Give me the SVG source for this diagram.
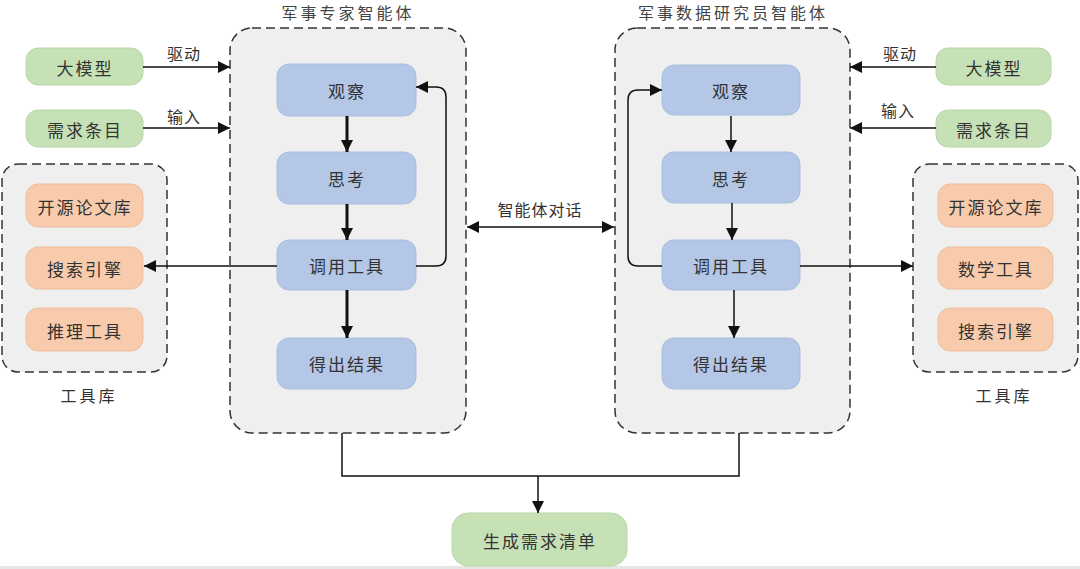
<svg xmlns="http://www.w3.org/2000/svg" width="1080" height="569" viewBox="0 0 1080 569">
<style>
text{font-family:"Noto Sans CJK SC","Noto Sans",sans-serif;fill:#333;text-anchor:middle;dominant-baseline:central}
.n{font-size:17px;letter-spacing:2px}
.t{font-size:16px;letter-spacing:3px;fill:#444}
.lb{font-size:16px;letter-spacing:1px}
.tl{font-size:16px;letter-spacing:3px}
.box{fill:#efefef;stroke:#333;stroke-width:1.5;stroke-dasharray:9 5}
.g{fill:#c6e1b5;stroke:#b9d6a6;stroke-width:1}
.b{fill:#b4c7e7;stroke:#a9bedf;stroke-width:1}
.o{fill:#f8cbad;stroke:#eebf9f;stroke-width:1}
.c{fill:none;stroke:#111;stroke-width:1.5}
.ck{fill:none;stroke:#111;stroke-width:3}
</style>
<defs>
<marker id="ah" viewBox="0 0 10 10" refX="10" refY="5" markerWidth="12" markerHeight="12" markerUnits="userSpaceOnUse" orient="auto-start-reverse">
<path d="M0,0 L10,5 L0,10 z" fill="#111"/>
</marker>
</defs>
<rect x="0" y="566" width="1080" height="3" fill="#e6e6e6"/>
<g id="expert-agent">
<rect class="box" x="230" y="28" width="236" height="405" rx="22"/>
<text class="t" x="348" y="12">军事专家智能体</text>
</g>
<g id="researcher-agent">
<rect class="box" x="615" y="28" width="235" height="405" rx="22"/>
<text class="t" x="733" y="12">军事数据研究员智能体</text>
</g>
<g id="left-toolbox">
<rect class="box" x="2" y="164" width="165" height="208" rx="16"/>
<text class="tl" x="89" y="395">工具库</text>
</g>
<g id="right-toolbox">
<rect class="box" x="913" y="164" width="165" height="208" rx="16"/>
<text class="tl" x="1004" y="395">工具库</text>
</g>
<g id="l-llm"><rect class="g" x="26" y="48" width="117" height="37" rx="12"/><text class="n" x="85" y="67">大模型</text></g>
<g id="l-req"><rect class="g" x="26" y="110" width="117" height="37" rx="12"/><text class="n" x="85" y="129">需求条目</text></g>
<g id="r-llm"><rect class="g" x="936" y="48" width="115" height="37" rx="12"/><text class="n" x="994" y="67">大模型</text></g>
<g id="r-req"><rect class="g" x="936" y="110" width="115" height="37" rx="12"/><text class="n" x="994" y="129">需求条目</text></g>
<g id="l-paper"><rect class="o" x="26" y="184" width="117" height="43" rx="12"/><text class="n" x="85" y="206">开源论文库</text></g>
<g id="l-search"><rect class="o" x="26" y="247" width="117" height="42" rx="12"/><text class="n" x="85" y="268">搜索引擎</text></g>
<g id="l-reason"><rect class="o" x="26" y="308" width="117" height="43" rx="12"/><text class="n" x="85" y="330">推理工具</text></g>
<g id="r-paper"><rect class="o" x="938" y="184" width="115" height="43" rx="12"/><text class="n" x="996" y="206">开源论文库</text></g>
<g id="r-math"><rect class="o" x="938" y="247" width="115" height="42" rx="12"/><text class="n" x="996" y="268">数学工具</text></g>
<g id="r-search"><rect class="o" x="938" y="308" width="115" height="43" rx="12"/><text class="n" x="996" y="330">搜索引擎</text></g>
<g id="l-observe"><rect class="b" x="277" y="64" width="139" height="52" rx="12"/><text class="n" x="347" y="90">观察</text></g>
<g id="l-think"><rect class="b" x="277" y="152" width="139" height="52" rx="12"/><text class="n" x="347" y="178">思考</text></g>
<g id="l-call"><rect class="b" x="277" y="240" width="139" height="50" rx="12"/><text class="n" x="347" y="265">调用工具</text></g>
<g id="l-result"><rect class="b" x="277" y="338" width="139" height="51" rx="12"/><text class="n" x="347" y="363">得出结果</text></g>
<g id="r-observe"><rect class="b" x="662" y="65" width="138" height="50" rx="12"/><text class="n" x="731" y="90">观察</text></g>
<g id="r-think"><rect class="b" x="662" y="152" width="138" height="51" rx="12"/><text class="n" x="731" y="178">思考</text></g>
<g id="r-call"><rect class="b" x="662" y="240" width="138" height="50" rx="12"/><text class="n" x="731" y="265">调用工具</text></g>
<g id="r-result"><rect class="b" x="662" y="338" width="138" height="51" rx="12"/><text class="n" x="731" y="363">得出结果</text></g>
<g id="output"><rect class="g" x="452" y="513" width="175" height="53" rx="16"/><text class="n" x="540" y="540">生成需求清单</text></g>
<g id="connectors">
<path class="c" d="M143,67 H230" marker-end="url(#ah)"/>
<path class="c" d="M143,128 H230" marker-end="url(#ah)"/>
<text class="lb" x="184" y="53">驱动</text>
<text class="lb" x="184" y="116">输入</text>
<path class="c" d="M936,67 H850" marker-end="url(#ah)"/>
<path class="c" d="M936,128 H850" marker-end="url(#ah)"/>
<text class="lb" x="900" y="53">驱动</text>
<text class="lb" x="898" y="110">输入</text>
<path class="ck" d="M347,116 V152" marker-end="url(#ah)"/>
<path class="ck" d="M347,204 V240" marker-end="url(#ah)"/>
<path class="ck" d="M347,290 V338" marker-end="url(#ah)"/>
<path class="c" d="M416,266 H436 Q446,266 446,256 V97 Q446,87 436,87 H416" marker-end="url(#ah)"/>
<path class="c" d="M277,266 H144" marker-end="url(#ah)"/>
<path class="c" d="M731,116 V152" marker-end="url(#ah)"/>
<path class="c" d="M732,203 V240" marker-end="url(#ah)"/>
<path class="c" d="M734,290 V338" marker-end="url(#ah)"/>
<path class="c" d="M662,266 H638 Q628,266 628,256 V100 Q628,90 638,90 H662" marker-end="url(#ah)"/>
<path class="c" d="M800,266 H913" marker-end="url(#ah)"/>
<path class="c" d="M467,227 H614" marker-start="url(#ah)" marker-end="url(#ah)"/>
<text class="lb" x="540" y="209">智能体对话</text>
<path class="c" d="M342,433 V476 H739 V433"/>
<path class="c" d="M538,476 V513" marker-end="url(#ah)"/>
</g>
</svg>
